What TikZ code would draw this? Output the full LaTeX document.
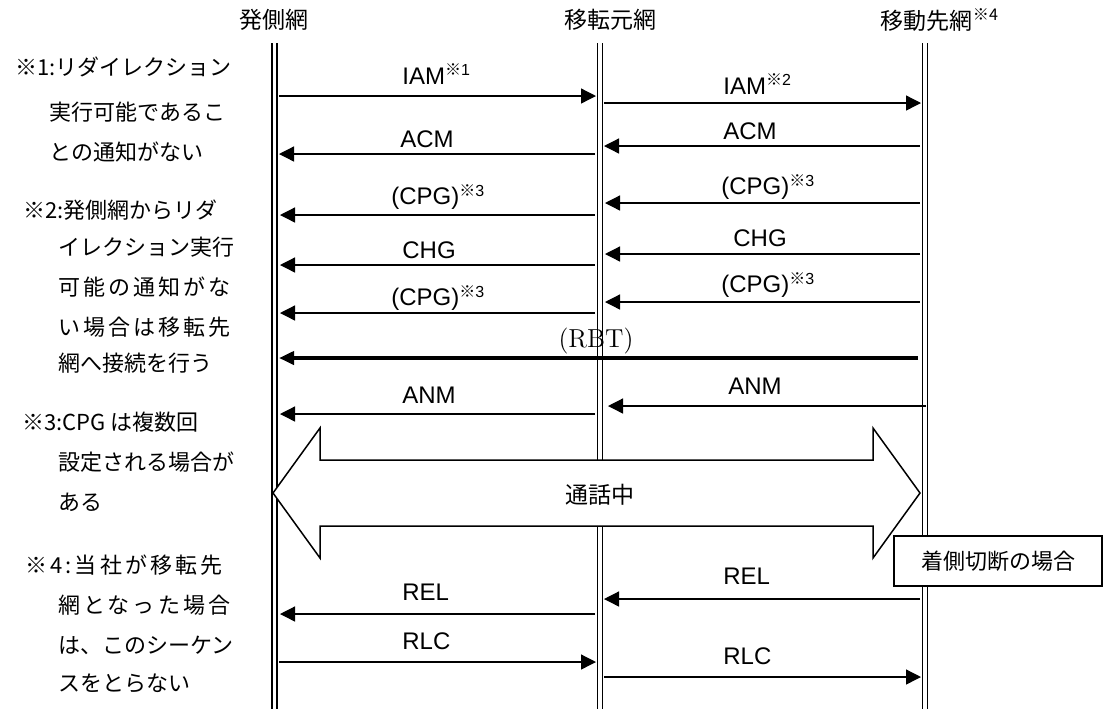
\documentclass[tikz,border=0pt]{standalone}
\usepackage{fontspec}
\newfontfamily\arialfont{Liberation Sans}
\newfontfamily\jpfont{Noto Sans CJK JP}
\newfontfamily\jpwide[LetterSpace=14]{Noto Sans CJK JP}
\usetikzlibrary{arrows.meta}

\newcommand{\kome}[1]{\textsuperscript{{\jpfont ※}#1}}

\tikzset{
  lifeline/.style={line width=0.9pt, double, double distance=1.6pt},
  msg/.style={line width=0.65pt, -{Triangle[length=7.5pt,width=7.5pt]}},
  rbtmsg/.style={line width=2.3pt, -{Triangle[length=7.5pt,width=6.5pt]}},
  lbl/.style={font=\arialfont\fontsize{12}{14}\selectfont, inner sep=0pt, anchor=west},
  head/.style={font=\jpfont\fontsize{11.5}{14}\selectfont, inner sep=0pt},
  noteline/.style={font=\jpfont\fontsize{11}{13}\selectfont, inner sep=0pt, anchor=west},
  notewide/.style={noteline, font=\jpwide\fontsize{11}{13}\selectfont},
}

\begin{document}
\begin{tikzpicture}[x=0.5pt,y=-0.5pt]

\useasboundingbox (0,0) rectangle (1103,709);

\node[head] (hO) at (274,20) {発側網};
\node[head] (hT) at (610,20) {移転元網};
\node[head] (hD) at (940,20) {移動先網\kome{4}};

\coordinate (Otop) at (274.5,43);  \coordinate (Obot) at (274.5,709);
\coordinate (Ttop) at (600,43);    \coordinate (Tbot) at (600,709);
\coordinate (Dtop) at (925,43);    \coordinate (Dbot) at (925,709);

\draw[lifeline] (Otop)--(Obot);
\draw[lifeline] (Ttop)--(Tbot);
\draw[lifeline] (Dtop)--(Dbot);

\coordinate (iam1s) at (279,96);  \coordinate (iam1e) at (596,96);
\coordinate (iam2s) at (604,103); \coordinate (iam2e) at (921,103);
\coordinate (acm2s) at (920,146); \coordinate (acm2e) at (604,146);
\coordinate (acm1s) at (595,154); \coordinate (acm1e) at (279,154);
\coordinate (cpgAs) at (920,203); \coordinate (cpgAe) at (605,203);
\coordinate (cpgBs) at (595,215); \coordinate (cpgBe) at (280,215);
\coordinate (chg2s) at (920,254); \coordinate (chg2e) at (605,254);
\coordinate (chg1s) at (595,265); \coordinate (chg1e) at (280,265);
\coordinate (cpgCs) at (920,302); \coordinate (cpgCe) at (605,302);
\coordinate (cpgDs) at (595,313); \coordinate (cpgDe) at (280,313);
\coordinate (rbts)  at (918,358); \coordinate (rbte)  at (279,358);
\coordinate (anm2s) at (926,406); \coordinate (anm2e) at (608,406);
\coordinate (anm1s) at (595,414); \coordinate (anm1e) at (280,414);
\coordinate (rel2s) at (920,599); \coordinate (rel2e) at (604,599);
\coordinate (rel1s) at (595,614); \coordinate (rel1e) at (280,614);
\coordinate (rlc1s) at (279,662); \coordinate (rlc1e) at (596,662);
\coordinate (rlc2s) at (604,677); \coordinate (rlc2e) at (921,677);

\draw[msg] (iam1s)--(iam1e);
\draw[msg] (iam2s)--(iam2e);
\draw[msg] (acm2s)--(acm2e);
\draw[msg] (acm1s)--(acm1e);
\draw[msg] (cpgAs)--(cpgAe);
\draw[msg] (cpgBs)--(cpgBe);
\draw[msg] (chg2s)--(chg2e);
\draw[msg] (chg1s)--(chg1e);
\draw[msg] (cpgCs)--(cpgCe);
\draw[msg] (cpgDs)--(cpgDe);
\draw[rbtmsg] (rbts)--(rbte);
\draw[msg] (anm2s)--(anm2e);
\draw[msg] (anm1s)--(anm1e);
\draw[msg] (rel2s)--(rel2e);
\draw[msg] (rel1s)--(rel1e);
\draw[msg] (rlc1s)--(rlc1e);
\draw[msg] (rlc2s)--(rlc2e);

\node[lbl] (liam1) at (402,74)  {IAM\kome{1}};
\node[lbl] (liam2) at (723,84)  {IAM\kome{2}};
\node[lbl] (lacm2) at (723,131) {ACM};
\node[lbl] (lacm1) at (400,139) {ACM};
\node[lbl] (lcpgA) at (721,187) {(CPG)\kome{3}};
\node[lbl] (lcpgB) at (391,197) {(CPG)\kome{3}};
\node[lbl] (lchg2) at (733,238) {CHG};
\node[lbl] (lchg1) at (402,250) {CHG};
\node[lbl] (lcpgC) at (721,285) {(CPG)\kome{3}};
\node[lbl] (lcpgD) at (391,298) {(CPG)\kome{3}};
\node[inner sep=0pt, font=\fontsize{13}{15}\selectfont] (lrbt) at (596,341) {(RBT)};
\node[lbl] (lanm2) at (728,386) {ANM};
\node[lbl] (lanm1) at (402,395) {ANM};
\node[lbl] (lrel2) at (723,576) {REL};
\node[lbl] (lrel1) at (402,592) {REL};
\node[lbl] (lrlc1) at (402,641) {RLC};
\node[lbl] (lrlc2) at (723,656) {RLC};

\draw[line width=0.75pt, fill=white] (273,493) -- (320,428) -- (320,460) -- (873,460)
  -- (873,428) -- (920,493) -- (873,558) -- (873,526) -- (320,526) -- (320,558) -- cycle;
\node[head] (talk) at (600,495) {通話中};

\node[draw, fill=white, line width=0.75pt, minimum width=104pt, minimum height=25pt,
  font=\jpfont\fontsize{11}{13}\selectfont] (cut) at (998,561) {着側切断の場合};

\node[noteline] (n1a) at (15,67)  {※1:リダイレクション};
\node[noteline] (n1b) at (49,112) {実行可能であるこ};
\node[noteline] (n1c) at (49,152) {との通知がない};
\node[noteline] (n2a) at (23,210) {※2:発側網からリダ};
\node[noteline] (n2b) at (58,247) {イレクション実行};
\node[notewide] (n2c) at (58,287) {可能の通知がな};
\node[notewide] (n2d) at (58,327) {い場合は移転先};
\node[noteline] (n2e) at (58,363) {網へ接続を行う};
\node[noteline] (n3a) at (22,422) {※3:CPG は複数回};
\node[noteline] (n3b) at (58,462) {設定される場合が};
\node[noteline] (n3c) at (58,502) {ある};
\node[notewide] (n4a) at (25,565) {※4:当社が移転先};
\node[notewide] (n4b) at (58,605) {網となった場合};
\node[noteline] (n4c) at (58,645) {は、このシーケン};
\node[noteline] (n4d) at (58,683) {スをとらない};

\end{tikzpicture}
\end{document}
